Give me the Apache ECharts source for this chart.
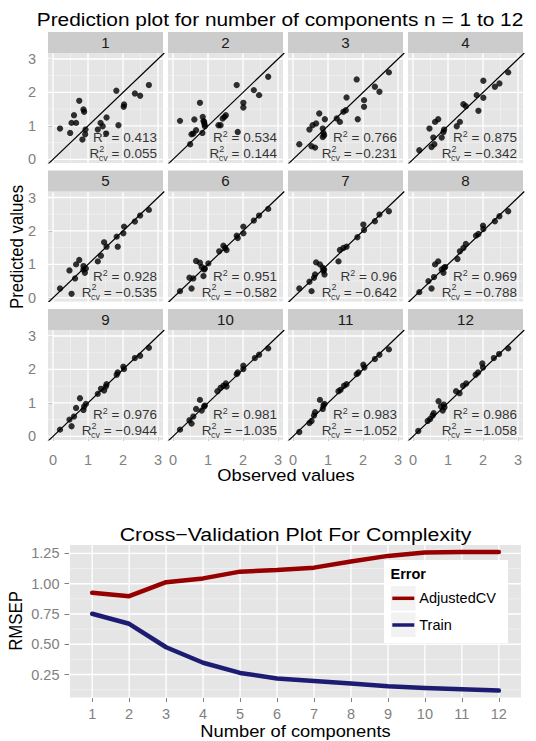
<!DOCTYPE html>
<html>
<head>
<meta charset="utf-8">
<script src="https://cdn.jsdelivr.net/npm/echarts@6/dist/echarts.min.js"></script>
<style>
  html, body { margin: 0; padding: 0; background: #ffffff; }
  #chart { width: 536px; height: 741px; }
</style>
</head>
<body>
<div id="chart"></div>
<script>
// ---------- data: observed vs predicted, one array per number of components ----------
const panelLabels = ['1', '2', '3', '4', '5', '6', '7', '8', '9', '10', '11', '12'];

const panel1 = [[0.20,0.92],[0.49,0.79],[0.53,1.09],[0.60,1.32],[0.66,1.09],[0.75,1.75],[0.84,0.59],[0.87,1.49],[0.89,1.42],[0.92,0.75],[0.93,0.89],[1.28,0.89],[1.36,1.09],[1.42,0.99],[1.52,0.77],[1.53,1.25],[1.81,2.05],[1.87,1.02],[2.02,1.57],[2.03,1.64],[2.34,1.97],[2.49,1.90],[2.74,2.22]];
const panel2 = [[0.20,1.15],[0.49,0.45],[0.53,0.75],[0.58,0.77],[0.61,1.19],[0.66,0.87],[0.77,1.69],[0.84,0.79],[0.85,1.27],[0.87,1.15],[0.89,1.12],[0.90,1.05],[0.91,0.99],[1.30,1.02],[1.36,1.02],[1.42,1.22],[1.47,1.27],[1.51,1.32],[1.82,2.22],[1.85,0.82],[2.01,1.55],[2.01,1.69],[2.31,2.07],[2.46,1.92],[2.72,2.47]];
const panel3 = [[0.18,0.45],[0.47,0.89],[0.53,0.39],[0.56,1.02],[0.63,0.35],[0.66,1.07],[0.75,1.37],[0.85,0.92],[0.85,0.67],[0.87,0.79],[0.89,0.72],[0.91,1.20],[1.25,1.22],[1.34,1.12],[1.44,1.42],[1.51,1.47],[1.53,1.85],[1.82,2.39],[1.85,1.20],[2.03,1.77],[2.03,1.57],[2.34,2.17],[2.47,2.02],[2.74,2.60]];
const panel4 = [[0.18,0.27],[0.47,0.92],[0.53,0.37],[0.58,0.65],[0.61,0.45],[0.63,1.12],[0.72,1.20],[0.82,0.65],[0.87,0.82],[0.89,0.89],[1.25,0.99],[1.34,1.12],[1.44,1.65],[1.51,1.59],[1.82,1.92],[1.87,1.45],[2.01,2.35],[2.01,1.84],[2.34,2.17],[2.47,2.27],[2.72,2.60]];
const panel5 = [[0.20,0.28],[0.47,0.82],[0.53,0.12],[0.63,0.58],[0.66,1.00],[0.75,1.13],[0.87,0.95],[0.87,0.85],[0.91,0.75],[0.94,0.88],[1.28,1.09],[1.37,1.26],[1.46,1.66],[1.53,1.53],[1.82,1.83],[1.85,1.53],[2.01,1.93],[2.03,2.13],[2.34,2.28],[2.49,2.46],[2.74,2.63]];
const panel6 = [[0.20,0.20],[0.47,0.60],[0.53,0.28],[0.58,0.58],[0.66,1.10],[0.77,1.05],[0.82,0.92],[0.87,0.65],[0.89,0.85],[0.91,0.88],[1.01,1.03],[1.32,1.39],[1.44,1.56],[1.49,1.49],[1.53,1.43],[1.82,1.86],[1.85,1.79],[2.01,2.13],[2.01,1.93],[2.31,2.31],[2.46,2.46],[2.72,2.66]];
const panel7 = [[0.18,0.28],[0.47,0.48],[0.53,0.20],[0.60,0.60],[0.63,0.70],[0.66,1.06],[0.77,1.00],[0.85,0.90],[0.87,0.80],[0.89,0.85],[0.90,0.70],[1.30,1.09],[1.34,1.43],[1.44,1.49],[1.53,1.53],[1.84,1.81],[2.01,2.19],[2.03,2.03],[2.34,2.29],[2.47,2.49],[2.74,2.59]];
const panel8 = [[0.18,0.17],[0.44,0.50],[0.53,0.28],[0.60,0.62],[0.63,1.00],[0.72,1.09],[0.82,0.85],[0.87,0.75],[0.89,0.90],[0.92,0.92],[1.27,1.16],[1.34,1.39],[1.44,1.49],[1.51,1.61],[1.80,1.86],[1.87,1.91],[2.00,2.16],[2.01,2.06],[2.34,2.29],[2.47,2.44],[2.72,2.59]];
const panel9 = [[0.20,0.20],[0.47,0.50],[0.53,0.30],[0.60,0.59],[0.66,0.85],[0.77,1.14],[0.87,0.79],[0.89,0.89],[0.94,0.97],[1.28,1.27],[1.37,1.42],[1.46,1.37],[1.51,1.49],[1.53,1.56],[1.82,1.84],[1.85,1.91],[2.01,2.08],[2.03,2.01],[2.34,2.34],[2.49,2.41],[2.74,2.65]];
const panel10 = [[0.20,0.20],[0.47,0.48],[0.53,0.38],[0.58,0.59],[0.66,0.82],[0.77,1.09],[0.82,0.77],[0.89,0.89],[0.91,0.92],[1.27,1.35],[1.36,1.45],[1.44,1.51],[1.51,1.58],[1.53,1.49],[1.82,1.86],[1.85,1.91],[2.01,2.11],[2.01,2.01],[2.34,2.34],[2.46,2.44],[2.72,2.63]];
const panel11 = [[0.18,0.13],[0.47,0.40],[0.53,0.46],[0.60,0.62],[0.63,0.72],[0.77,1.09],[0.85,0.82],[0.87,0.92],[0.90,0.97],[1.30,1.35],[1.36,1.39],[1.46,1.51],[1.53,1.56],[1.82,1.86],[1.87,1.91],[2.01,2.14],[2.04,2.06],[2.34,2.31],[2.47,2.44],[2.74,2.60]];
const panel12 = [[0.15,0.16],[0.42,0.46],[0.49,0.52],[0.56,0.62],[0.59,0.69],[0.73,1.05],[0.80,0.89],[0.85,0.77],[0.88,0.95],[0.90,0.87],[1.23,1.35],[1.33,1.29],[1.43,1.51],[1.52,1.58],[1.79,1.84],[1.86,1.91],[1.98,2.18],[2.00,2.06],[2.31,2.34],[2.46,2.46],[2.72,2.63]];

const r2   = [0.413, 0.534, 0.766, 0.875, 0.928, 0.951, 0.96, 0.969, 0.976, 0.981, 0.983, 0.986];
const r2cv = [0.055, 0.144, -0.231, -0.342, -0.535, -0.582, -0.642, -0.788, -0.944, -1.035, -1.052, -1.058];

const facetTicks = [0, 1, 2, 3];
const facetMinor = [0.5, 1.5, 2.5];

// ---------- data: RMSEP against model complexity ----------
const components = [1, 2, 3, 4, 5, 6, 7, 8, 9, 10, 11, 12];
const adjustedCV = [0.925, 0.897, 1.013, 1.044, 1.100, 1.113, 1.133, 1.183, 1.230, 1.258, 1.262, 1.263];
const train      = [0.752, 0.669, 0.475, 0.347, 0.263, 0.217, 0.197, 0.175, 0.153, 0.139, 0.128, 0.117];
const rmsepTicks = [0.25, 0.50, 0.75, 1.00, 1.25];
const rmsepMinor = [0.125, 0.375, 0.625, 0.875, 1.125];

const panels = [panel1, panel2, panel3, panel4, panel5, panel6, panel7, panel8, panel9, panel10, panel11, panel12];

// ---------- layout / style ----------
const FONT = '"Liberation Sans", Arial, Helvetica, sans-serif';
const PANEL_BG = '#E5E5E5';
const STRIP_BG = '#CCCCCC';
const TICK_COL = '#7F7F7F';
const TICK_SIZE = 14.5;
const colLeft = [48, 168, 288, 408];
const rowTop = [53, 191.5, 330];
const panelW = 115, panelH = 110, stripH = 21;
const xRange = [-0.143, 3.143];
const yRange = [-0.11, 3.18];

const fmt = v => String(v).replace('-', '\u2212');

// straight grid rules expressed as broken polylines in data space
function rules(values, vertical, lo, hi) {
  const out = [];
  values.forEach(v => {
    if (vertical) { out.push([v, lo], [v, hi]); } else { out.push([lo, v], [hi, v]); }
    out.push(['-', '-']);
  });
  return out;
}

function ruleSeries(idx, data, color, width) {
  return {
    type: 'line', xAxisIndex: idx, yAxisIndex: idx, data: data,
    symbol: 'none', silent: true, z: 1, clip: true, connectNulls: false,
    lineStyle: { color: color, width: width }
  };
}

// R² / R²cv typography: the "cv" token is narrower than its glyphs so the
// superscript 2 stacks above it
const rich = {
  n:   { fontSize: 13.5, fontFamily: FONT, color: '#000', lineHeight: 16 },
  sup: { fontSize: 9, fontFamily: FONT, color: '#000', lineHeight: 16, padding: [0, 0, 7, 0] },
  sup2:{ fontSize: 9, fontFamily: FONT, color: '#000', lineHeight: 16, padding: [0, 0, 10, 0] },
  cv:  { fontSize: 9, fontFamily: FONT, color: '#000', lineHeight: 16, padding: [9, 0, 0, 0], width: 3.5 }
};

const grids = [], xAxes = [], yAxes = [], series = [], graphics = [];

panels.forEach((pts, i) => {
  const r = Math.floor(i / 4), c = i % 4;
  const left = colLeft[c], top = rowTop[r];
  grids.push({ left: left, top: top, width: panelW, height: panelH, show: true,
               backgroundColor: PANEL_BG, borderWidth: 0 });
  xAxes.push({
    gridIndex: i, type: 'value', min: xRange[0], max: xRange[1],
    axisLine: { show: false }, splitLine: { show: false },
    axisTick: { show: r === 2, customValues: facetTicks, length: 4.5, lineStyle: { color: TICK_COL, width: 1 } },
    axisLabel: { show: r === 2, customValues: facetTicks, color: TICK_COL, fontSize: TICK_SIZE, fontFamily: FONT, margin: 12 }
  });
  yAxes.push({
    gridIndex: i, type: 'value', min: yRange[0], max: yRange[1],
    axisLine: { show: false }, splitLine: { show: false },
    axisTick: { show: c === 0, customValues: facetTicks, length: 4.5, lineStyle: { color: TICK_COL, width: 1 } },
    axisLabel: { show: c === 0, customValues: facetTicks, color: TICK_COL, fontSize: TICK_SIZE, fontFamily: FONT, margin: 12 }
  });

  series.push(ruleSeries(i, rules(facetMinor, true, -10, 10).concat(rules(facetMinor, false, -10, 10)), '#F5F5F5', 0.6));
  series.push(ruleSeries(i, rules(facetTicks, true, -10, 10).concat(rules(facetTicks, false, -10, 10)), '#FFFFFF', 1.3));

  // identity line y = x across the panel
  series.push({
    type: 'line', xAxisIndex: i, yAxisIndex: i, symbol: 'none', silent: true, z: 2, clip: true,
    data: [[xRange[0], xRange[0]], [yRange[1], yRange[1]]],
    lineStyle: { color: '#000', width: 1.2 }
  });

  series.push({
    type: 'scatter', xAxisIndex: i, yAxisIndex: i, data: pts,
    symbol: 'circle', symbolSize: 6.3, itemStyle: { color: '#000' }, z: 3, silent: true
  });

  // R² and cross-validated R² annotation, right-aligned in the lower corner
  const a = fmt(r2[i]), b = fmt(r2cv[i]);
  series.push({
    type: 'scatter', xAxisIndex: i, yAxisIndex: i, symbolSize: 0, z: 5, silent: true,
    data: [
      { value: [2.97, 0.40],
        label: { formatter: '{n|R}{sup|2}{n| = ' + a + '}\n{n|R}{sup2|2}{cv|cv}{n| = ' + b + '}' } }
    ],
    label: { show: true, position: 'left', distance: 0, align: 'right', overflow: 'none', rich: rich }
  });

  // facet strip
  graphics.push({ type: 'rect', z: 5, silent: true,
    shape: { x: left, y: top - stripH, width: panelW, height: stripH },
    style: { fill: STRIP_BG } });
  graphics.push({ type: 'text', z: 6, silent: true, x: left + panelW / 2, y: top - stripH / 2 + 0.5,
    scaleX: 1.08,
    style: { text: panelLabels[i], align: 'center', verticalAlign: 'middle',
             textAlign: 'center', textVerticalAlign: 'middle',
             font: '14px ' + FONT, fill: '#1A1A1A' } });
});

// ---------- cross-validation panel ----------
const B = panels.length;
grids.push({ left: 70, top: 545, width: 451, height: 152.5, show: true, backgroundColor: PANEL_BG, borderWidth: 0 });
xAxes.push({
  gridIndex: B, type: 'value', min: 0.4, max: 12.6,
  axisLine: { show: false }, splitLine: { show: false },
  axisTick: { show: true, customValues: components, length: 4.5, lineStyle: { color: TICK_COL } },
  axisLabel: { customValues: components, color: TICK_COL, fontSize: TICK_SIZE, fontFamily: FONT, margin: 9 }
});
yAxes.push({
  gridIndex: B, type: 'value', min: 0.06, max: 1.32,
  axisLine: { show: false }, splitLine: { show: false },
  axisTick: { show: true, customValues: rmsepTicks, length: 5.5, lineStyle: { color: TICK_COL } },
  axisLabel: { customValues: rmsepTicks, color: TICK_COL, fontSize: TICK_SIZE, fontFamily: FONT, margin: 10.5,
               formatter: v => v.toFixed(2) }
});
series.push(ruleSeries(B, rules(rmsepMinor, false, -10, 20), '#F5F5F5', 0.6));
series.push(ruleSeries(B, rules(rmsepTicks, false, -10, 20).concat(rules(components, true, -10, 20)), '#FFFFFF', 1.3));

series.push({
  name: 'AdjustedCV', type: 'line', xAxisIndex: B, yAxisIndex: B, symbol: 'none', z: 3,
  data: components.map((c, k) => [c, adjustedCV[k]]),
  itemStyle: { color: '#960000' },
  lineStyle: { color: '#960000', width: 4.5, join: 'round', cap: 'round' }
});
series.push({
  name: 'Train', type: 'line', xAxisIndex: B, yAxisIndex: B, symbol: 'none', z: 3,
  data: components.map((c, k) => [c, train[k]]),
  itemStyle: { color: '#1C1C72' },
  lineStyle: { color: '#1C1C72', width: 4.5, join: 'round', cap: 'round' }
});

// legend box with key backgrounds
graphics.push({ type: 'rect', z: 5, silent: true, shape: { x: 384, y: 560, width: 124, height: 83 }, style: { fill: '#FFFFFF' } });
graphics.push({ type: 'rect', z: 6, silent: true, shape: { x: 390.5, y: 585.5, width: 25.5, height: 25.5 }, style: { fill: '#F2F2F2', stroke: '#FFFFFF', lineWidth: 1 } });
graphics.push({ type: 'rect', z: 6, silent: true, shape: { x: 390.5, y: 612, width: 25.5, height: 25.5 }, style: { fill: '#F2F2F2', stroke: '#FFFFFF', lineWidth: 1 } });
graphics.push({ type: 'text', z: 7, silent: true, x: 390.5, y: 574,
  style: { text: 'Error', align: 'left', verticalAlign: 'middle', textAlign: 'left', textVerticalAlign: 'middle',
           font: 'bold 14.5px ' + FONT, fill: '#000' } });

// titles and axis titles (slightly widened glyphs, as in the printed figure)
function label(text, x, y, size, rotated) {
  return { type: 'text', z: 7, silent: true, x: x, y: y,
    rotation: rotated ? Math.PI / 2 : 0,
    scaleX: rotated ? 1 : 1.11, scaleY: rotated ? 1.11 : 1,
    style: { text: text, align: 'center', verticalAlign: 'middle', textAlign: 'center', textVerticalAlign: 'middle',
             font: size + 'px ' + FONT, fill: '#000' } };
}
graphics.push(label('Prediction plot for number of components n = 1 to 12', 280, 19, 18.8));
graphics.push(label('Predicted values', 17, 247, 16.8, true));
graphics.push(label('Observed values', 286, 475, 16.5));
graphics.push(label('Cross\u2212Validation Plot For Complexity', 295.5, 534, 19.2));
graphics.push(label('RMSEP', 15.5, 621, 16.8, true));
graphics.push(label('Number of components', 295.5, 731, 16.5));

const chart = echarts.init(document.getElementById('chart'), null, { renderer: 'svg' });
chart.setOption({
  animation: false,
  backgroundColor: '#FFFFFF',
  textStyle: { fontFamily: FONT },
  grid: grids,
  xAxis: xAxes,
  yAxis: yAxes,
  legend: {
    data: ['AdjustedCV', 'Train'], orient: 'vertical', left: 392.3, top: 590.3, padding: 0,
    itemWidth: 22, itemHeight: 3.5, itemGap: 10.7, icon: 'rect', selectedMode: false, z: 10,
    textStyle: { fontSize: 14.5, fontFamily: FONT, color: '#000', lineHeight: 16 }
  },
  graphic: { elements: graphics },
  series: series
});
</script>
</body>
</html>
